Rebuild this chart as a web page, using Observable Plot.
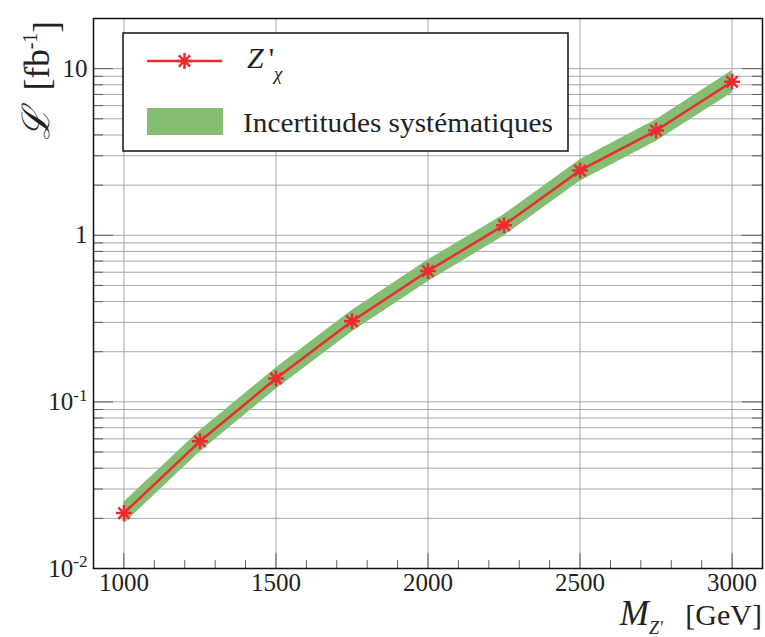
<!DOCTYPE html>
<html><head><meta charset="utf-8">
<script src="https://cdn.jsdelivr.net/npm/d3@7"></script>
<script src="https://cdn.jsdelivr.net/npm/@observablehq/plot@0.6"></script>
<style>
body{margin:0;background:#fff}
#chart svg text, #chart svg tspan { font-family: 'Liberation Serif', 'Times New Roman', serif !important; font-variant: normal !important; }
#chart svg tspan.script { font-family: 'DejaVu Serif', serif !important; }
</style>
</head><body><div id="chart"></div>
<script>
// Data
const masses   = [1000, 1250, 1500, 1750, 2000, 2250, 2500, 2750, 3000];
const lumi     = [0.0215, 0.058, 0.138, 0.305, 0.61, 1.15, 2.45, 4.25, 8.35];
const bandHigh = [0.025, 0.067, 0.160, 0.354, 0.71, 1.33, 2.84, 4.93, 9.7];
const bandLow  = [0.0185, 0.050, 0.119, 0.263, 0.526, 0.99, 2.11, 3.66, 7.15];
const xMajorTicks = [1000, 1500, 2000, 2500, 3000];
const yLabelTicks = [0.01, 0.1, 1, 10];
const yTickText = ["10^-2", "10^-1", "1", "10"];
const seriesName = "Z";
const seriesSub = "χ";
const bandName = "Incertitudes systématiques";

const W = 765, H = 637, mL = 93, mR = 3, mT = 18, mB = 69;
const innerW = W - mL - mR, innerH = H - mT - mB;
const red = "#ec2a2f", green = "#85be72", grid = "#a4a9ae", tickC = "#5a5f64";
const font = "'Liberation Serif', 'Times New Roman', serif";

const rows = masses.map((m, i) => ({m, v: lumi[i], lo: bandLow[i], hi: bandHigh[i]}));
const xMinor = d3.range(1000, 3001, 100).filter(d => d % 500 !== 0);
const yMinor = [];
for (const e of [0.01, 0.1, 1, 10]) for (let k = 2; k <= 9; k++) if (k * e <= 20) yMinor.push(+(k * e).toPrecision(3));
const yAll = yLabelTicks.concat(yMinor);

const star = {draw(ctx, size) {
  const r = Math.sqrt(size / Math.PI), d = r * 0.7071;
  ctx.moveTo(-r, 0); ctx.lineTo(r, 0);
  ctx.moveTo(0, -r); ctx.lineTo(0, r);
  ctx.moveTo(-d, -d); ctx.lineTo(d, d);
  ctx.moveTo(-d, d); ctx.lineTo(d, -d);
}};

const chart = Plot.plot({
  width: W, height: H, marginLeft: mL, marginRight: mR, marginTop: mT, marginBottom: mB,
  style: {fontFamily: font, fontSize: "25px", color: "#222", background: "#fff"},
  x: {domain: [900, 3100]},
  y: {type: "log", domain: [0.01, 20]},
  marks: [
    Plot.gridX(xMajorTicks, {stroke: grid, strokeOpacity: 1, strokeWidth: 1}),
    Plot.gridY(yAll, {stroke: grid, strokeOpacity: 1, strokeWidth: 1}),
    Plot.tickX(xMinor, {x: d => d, stroke: tickC, insetTop: innerH - 8}),
    Plot.tickX(xMajorTicks, {x: d => d, stroke: tickC, insetTop: innerH - 15}),
    Plot.tickY(yMinor, {y: d => d, stroke: tickC, insetRight: innerW - 10}),
    Plot.tickY(yLabelTicks, {y: d => d, stroke: tickC, insetRight: innerW - 20}),
    Plot.tickY(yMinor, {y: d => d, stroke: tickC, insetLeft: innerW - 10}),
    Plot.tickY(yLabelTicks, {y: d => d, stroke: tickC, insetLeft: innerW - 20}),
    Plot.areaY(rows, {x: "m", y1: "lo", y2: "hi", fill: green, fillOpacity: 1}),
    Plot.line(rows, {x: "m", y: "v", stroke: red, strokeWidth: 2.5}),
    Plot.dot(rows, {x: "m", y: "v", symbol: star, r: 8, fill: "none", stroke: red, strokeWidth: 2.5}),
    Plot.axisX(xMajorTicks, {tickSize: 0, tickPadding: 5, label: null, fill: "#222",
      fontFamily: font, fontSize: 25, tickFormat: d => String(d)}),
    Plot.axisY(yLabelTicks, {tickSize: 0, tickPadding: 6, label: null, fill: "#222",
      fontFamily: font, fontSize: 25, tickFormat: d => yTickText[yLabelTicks.indexOf(d)]}),
    Plot.frame({stroke: "#111", strokeWidth: 1.5})
  ]
});
document.getElementById("chart").appendChild(chart);

const svg = d3.select(chart);
// superscript tick labels
svg.selectAll('g[aria-label="y-axis tick label"] text').each(function() {
  const t = d3.select(this);
  const s = t.text();
  if (s.includes("^")) {
    const [base, exp] = s.split("^");
    t.text(null);
    t.append("tspan").text(base);
    t.append("tspan").attr("dy", "-0.55em").style("font-size", "17px").text(exp);
  }
});

// y title
const yt = svg.append("text")
  .attr("transform", `translate(49,${mT + 3}) rotate(-90)`)
  .attr("text-anchor", "end").style("font-size", "35px").attr("fill", "#222");
yt.append("tspan").attr("class", "script").style("font-style", "italic").style("font-size", "38px").text("ℒ");
yt.append("tspan").text("  [fb");
yt.append("tspan").attr("dy", "-0.6em").style("font-size", "20px").text("-1");
yt.append("tspan").attr("dy", "0.6em").text("]");

// x title
const xt = svg.append("text")
  .attr("x", W - 3).attr("y", 625)
  .attr("text-anchor", "end").style("font-size", "30px").attr("fill", "#222");
xt.append("tspan").style("font-style", "italic").style("font-size", "35px").text("M");
xt.append("tspan").style("font-style", "italic").style("font-size", "18px").attr("dy", 9).text("Z'");
xt.append("tspan").attr("dy", -9).text("   [GeV]");

// legend
const lg = svg.append("g");
lg.append("rect").attr("x", 123).attr("y", 33).attr("width", 445).attr("height", 118)
  .attr("fill", "#fff").attr("stroke", "#111").attr("stroke-width", 1.5);
lg.append("line").attr("x1", 147).attr("x2", 222).attr("y1", 61).attr("y2", 61)
  .attr("stroke", red).attr("stroke-width", 2.5);
lg.append("path").attr("transform", "translate(184.5,61)")
  .attr("d", d3.symbol(star, Math.PI * 64)()).attr("fill", "none").attr("stroke", red).attr("stroke-width", 2.5);
lg.append("rect").attr("x", 147).attr("y", 108).attr("width", 76).attr("height", 27).attr("fill", green);
const l1 = lg.append("text").attr("x", 247).attr("y", 68).attr("text-anchor", "start")
  .style("font-size", "30px").attr("fill", "#222");
l1.append("tspan").style("font-style", "italic").text(seriesName);
l1.append("tspan").attr("dx", 5).text("'");
l1.append("tspan").style("font-style", "italic").style("font-size", "19px").attr("dy", 12).attr("dx", 0).text(seriesSub);
lg.append("text").attr("x", 243).attr("y", 132).attr("text-anchor", "start")
  .attr("textLength", 310).attr("lengthAdjust", "spacingAndGlyphs")
  .style("font-size", "28px").attr("fill", "#222").text(bandName);
</script>
</body></html>
